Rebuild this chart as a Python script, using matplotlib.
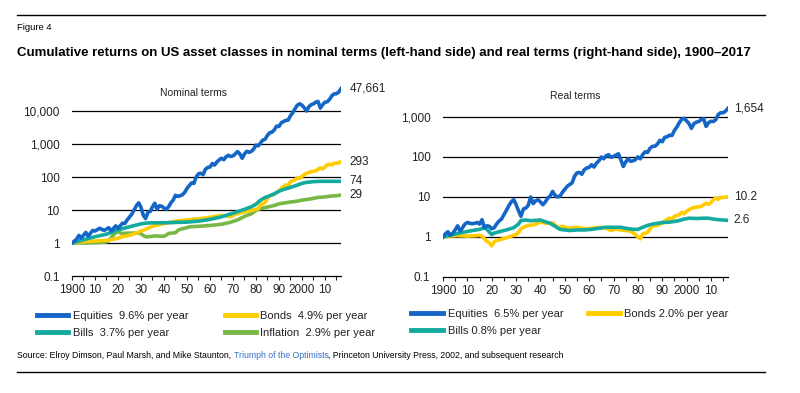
import matplotlib
matplotlib.use("Agg")
import matplotlib.pyplot as plt
from matplotlib.lines import Line2D
from matplotlib.ticker import FixedLocator, FuncFormatter

plt.rcParams['font.family'] = ['Liberation Sans', 'DejaVu Sans']

# ---- nominal terms (left) ----
nom_eq_years = [1900, 1902, 1903, 1904, 1906, 1907, 1909, 1910, 1912, 1914, 1916, 1917, 1919, 1920,
                1922, 1923, 1924, 1926, 1927, 1928, 1929, 1930, 1931, 1932, 1933, 1934, 1935, 1936,
                1937, 1938, 1939, 1940, 1941, 1942, 1943, 1944, 1945, 1946, 1947, 1948, 1949, 1950,
                1951, 1952, 1953, 1954, 1955, 1956, 1957, 1958, 1959, 1960, 1961, 1962, 1963, 1964,
                1965, 1966, 1967, 1968, 1969, 1970, 1971, 1972, 1973, 1974, 1975, 1976, 1977, 1978,
                1979, 1980, 1981, 1982, 1983, 1984, 1985, 1986, 1987, 1988, 1989, 1990, 1991, 1992,
                1993, 1994, 1995, 1996, 1997, 1998, 1999, 2000, 2001, 2002, 2003, 2004, 2005, 2006,
                2007, 2008, 2009, 2010, 2011, 2012, 2013, 2014, 2015, 2016, 2017]
nom_eq = [1.0, 1.3, 1.7, 1.4, 2.1, 1.6, 2.4, 2.3, 2.8, 2.4, 2.9, 2.3, 3.3, 2.8,
          4.0, 3.9, 5.0, 7.5, 10.0, 13.5, 16.5, 12.0, 7.0, 5.5, 8.5, 9.0, 12.5, 16.0,
          10.5, 13.5, 13.0, 11.5, 10.5, 12.5, 16.5, 20.0, 28.0, 26.0, 27.0, 29.0, 34.0, 45.0,
          55.0, 66.0, 64.0, 100.0, 125.0, 130.0, 118.0, 170.0, 195.0, 200.0, 255.0, 230.0, 285.0, 330.0,
          370.0, 335.0, 410.0, 455.0, 420.0, 435.0, 500.0, 590.0, 500.0, 370.0, 500.0, 600.0, 560.0, 600.0,
          700.0, 930.0, 880.0, 1080.0, 1320.0, 1400.0, 1840.0, 2200.0, 2300.0, 2700.0, 3500.0, 3400.0, 4400.0, 4800.0,
          5200.0, 5300.0, 7200.0, 8900.0, 11800.0, 15000.0, 16500.0, 15000.0, 12500.0, 10000.0, 13500.0, 15500.0, 16500.0, 18500.0,
          19500.0, 12300.0, 15500.0, 18500.0, 19000.0, 22500.0, 29000.0, 33000.0, 33500.0, 37500.0, 47661.0]

nom_bd_years = [1900, 1905, 1910, 1915, 1918, 1920, 1922, 1925, 1928, 1930, 1932, 1935, 1938, 1940,
                1943, 1945, 1948, 1950, 1955, 1958, 1960, 1963, 1965, 1967, 1969, 1970, 1972, 1975,
                1978, 1980, 1981, 1982, 1984, 1985, 1986, 1988, 1990, 1991, 1993, 1994, 1995, 1997,
                1998, 1999, 2000, 2002, 2004, 2006, 2008, 2009, 2010, 2011, 2012, 2013, 2014, 2015,
                2016, 2017]
nom_bd = [1.0, 1.1, 1.15, 1.2, 1.3, 1.4, 1.55, 1.7, 2.0, 2.3, 2.6, 3.2, 3.6, 3.9,
          4.2, 4.6, 4.8, 5.0, 5.4, 5.7, 6.0, 6.5, 6.8, 6.6, 6.2, 6.9, 7.8, 8.8,
          9.8, 10.5, 11.0, 14.5, 17.0, 22.0, 27.0, 30.0, 38.0, 45.0, 58.0, 54.0, 72.0, 82.0,
          95.0, 90.0, 105.0, 130.0, 145.0, 155.0, 190.0, 175.0, 200.0, 235.0, 245.0, 230.0, 260.0, 262.0,
          270.0, 293.0]

nom_bl_years = [1900, 1905, 1910, 1915, 1920, 1925, 1930, 1932, 1935, 1940, 1945, 1950, 1955, 1960,
                1965, 1970, 1975, 1978, 1980, 1982, 1984, 1986, 1988, 1990, 1992, 1994, 1996, 1998,
                2000, 2002, 2004, 2006, 2008, 2010, 2013, 2017]
nom_bl = [1.0, 1.25, 1.55, 1.85, 2.5, 3.1, 3.8, 4.0, 4.1, 4.1, 4.2, 4.3, 4.6, 5.2,
          6.2, 8.0, 10.5, 12.5, 15.0, 20.0, 24.0, 27.0, 31.0, 37.0, 42.0, 46.0, 51.0, 57.0,
          64.0, 69.0, 71.0, 73.0, 74.0, 74.0, 74.0, 74.0]

nom_in_years = [1900, 1905, 1910, 1913, 1915, 1916, 1917, 1918, 1919, 1920, 1921, 1922, 1925, 1929,
                1930, 1931, 1932, 1933, 1935, 1937, 1938, 1940, 1941, 1942, 1945, 1946, 1947, 1948,
                1950, 1951, 1955, 1960, 1965, 1968, 1970, 1972, 1974, 1975, 1978, 1979, 1980, 1981,
                1983, 1985, 1988, 1990, 1993, 1995, 1998, 2000, 2003, 2005, 2007, 2008, 2010, 2013,
                2015, 2017]
nom_in = [1.0, 1.0, 1.02, 1.05, 1.08, 1.2, 1.45, 1.75, 2.0, 2.3, 2.0, 1.95, 2.0, 2.0,
          1.9, 1.7, 1.55, 1.55, 1.6, 1.65, 1.6, 1.6, 1.75, 1.95, 2.05, 2.4, 2.6, 2.7,
          2.9, 3.1, 3.2, 3.4, 3.7, 4.1, 4.5, 5.0, 5.9, 6.4, 7.7, 8.6, 9.7, 10.6,
          11.4, 12.3, 13.7, 15.4, 16.6, 17.5, 18.5, 19.9, 21.3, 22.5, 24.2, 24.2, 25.0, 26.6,
          27.0, 28.6]

# ---- real terms (right) ----
real_eq_years = list(range(1900, 2018))
real_eq = [1.0, 1.2, 1.35, 1.1, 1.25, 1.5, 1.9, 1.4, 1.7, 2.1,
           2.3, 2.2, 2.15, 2.2, 2.3, 2.1, 2.7, 1.7, 1.9, 1.85,
           1.6, 1.7, 2.1, 2.5, 2.8, 3.6, 4.6, 6.0, 7.5, 8.6,
           6.5, 4.5, 3.3, 5.0, 5.3, 6.2, 10.0, 6.8, 8.0, 8.6,
           7.5, 6.4, 7.5, 9.4, 10.5, 13.8, 11.0, 10.0, 10.5, 13.0,
           15.5, 18.5, 20.5, 22.5, 33.0, 40.0, 41.0, 37.0, 48.0, 53.0,
           55.0, 64.0, 56.0, 70.0, 80.0, 100.0, 90.0, 108.0, 114.0, 98.0,
           103.0, 112.0, 120.0, 85.0, 58.0, 75.0, 90.0, 78.0, 80.0, 86.0,
           100.0, 90.0, 115.0, 135.0, 130.0, 165.0, 185.0, 185.0, 210.0, 260.0,
           240.0, 310.0, 320.0, 350.0, 345.0, 460.0, 560.0, 720.0, 880.0, 920.0,
           800.0, 680.0, 520.0, 680.0, 740.0, 770.0, 860.0, 900.0, 580.0, 720.0,
           780.0, 770.0, 860.0, 1150.0, 1280.0, 1270.0, 1400.0, 1654.0]

real_bd_years = [1900, 1903, 1906, 1910, 1913, 1915, 1916, 1917, 1918, 1919, 1920, 1921, 1922, 1924,
                 1926, 1928, 1930, 1931, 1932, 1933, 1935, 1937, 1939, 1940, 1942, 1944, 1945, 1946,
                 1947, 1948, 1949, 1950, 1951, 1953, 1955, 1957, 1959, 1961, 1963, 1965, 1967, 1969,
                 1971, 1973, 1975, 1977, 1979, 1980, 1981, 1982, 1984, 1985, 1986, 1988, 1990, 1991,
                 1993, 1994, 1995, 1997, 1998, 1999, 2000, 2002, 2004, 2006, 2008, 2009, 2010, 2011,
                 2012, 2013, 2014, 2015, 2016, 2017]
real_bd = [1.0, 1.05, 1.08, 1.05, 1.07, 1.1, 1.05, 0.9, 0.78, 0.72, 0.6, 0.75, 0.82, 0.88,
           0.95, 1.05, 1.15, 1.3, 1.6, 1.75, 1.95, 2.0, 2.2, 2.4, 2.2, 2.2, 2.25, 2.0,
           1.8, 1.7, 1.85, 1.8, 1.65, 1.7, 1.75, 1.65, 1.6, 1.65, 1.7, 1.75, 1.65, 1.45,
           1.6, 1.5, 1.45, 1.4, 1.15, 1.0, 0.9, 1.2, 1.3, 1.6, 1.9, 1.95, 2.2, 2.5,
           3.0, 2.7, 3.3, 3.6, 4.1, 3.8, 4.4, 5.2, 5.6, 5.8, 7.0, 6.5, 7.3, 8.5,
           9.5, 8.7, 9.8, 9.7, 9.9, 10.2]

real_bl_years = [1900, 1904, 1908, 1912, 1915, 1917, 1918, 1920, 1921, 1923, 1926, 1929, 1931, 1932,
                 1934, 1936, 1938, 1940, 1942, 1944, 1946, 1948, 1950, 1952, 1955, 1958, 1961, 1964,
                 1967, 1970, 1973, 1975, 1978, 1980, 1982, 1984, 1986, 1988, 1990, 1993, 1996, 1999,
                 2001, 2004, 2007, 2009, 2011, 2013, 2015, 2017]
real_bl = [1.0, 1.15, 1.3, 1.45, 1.55, 1.7, 1.55, 1.15, 1.25, 1.35, 1.5, 1.7, 2.1, 2.6,
           2.65, 2.55, 2.6, 2.65, 2.4, 2.2, 1.85, 1.55, 1.5, 1.45, 1.5, 1.5, 1.55, 1.65,
           1.75, 1.75, 1.75, 1.65, 1.55, 1.55, 1.75, 1.95, 2.1, 2.2, 2.3, 2.35, 2.5, 2.8,
           2.95, 2.9, 2.95, 2.95, 2.8, 2.7, 2.65, 2.6]

decade_ticks = list(range(1900, 2011, 10))
decade_labels = ['1900', '10', '20', '30', '40', '50', '60', '70', '80', '90', '2000', '10']
five_year_ticks = list(range(1900, 2016, 5))

BLUE = '#1466c6'
YELLOW = '#ffcc00'
TEAL = '#13aa9f'
GREEN = '#79b846'
TXT = '#222222'

fig = plt.figure(figsize=(8, 3.93), dpi=100)


def style_axis(ax, ymin, ymax, grid_vals):
    ax.set_yscale('log')
    ax.set_xlim(1900, 2017)
    ax.set_ylim(ymin, ymax)
    for s in ['left', 'right', 'top']:
        ax.spines[s].set_visible(False)
    ax.spines['bottom'].set_linewidth(0.9)
    ax.set_xticks(five_year_ticks)
    ax.set_xticklabels([decade_labels[decade_ticks.index(t)] if t in decade_ticks else ''
                        for t in five_year_ticks])
    ax.tick_params(axis='x', length=3, width=0.8, pad=3, labelsize=8.5, colors=TXT)
    ax.tick_params(axis='y', length=0, pad=9, labelsize=8.5, colors=TXT)
    ax.yaxis.set_major_locator(FixedLocator([ymin] + grid_vals))
    ax.yaxis.set_minor_locator(FixedLocator([]))
    ax.yaxis.set_major_formatter(FuncFormatter(lambda v, p: '0.1' if v < 1 else f'{v:,.0f}'))
    for g in grid_vals:
        ax.axhline(g, color='black', lw=0.9, zorder=1)


def style_legend(leg):
    for line in leg.get_lines():
        line.set_linewidth(3.5)
    for t in leg.get_texts():
        t.set_color(TXT)


# left panel
ax1 = fig.add_axes([0.09, 0.2977, 0.3363, 0.5038])
style_axis(ax1, 0.1, 1e5, [1, 10, 100, 1000, 10000])
l_in, = ax1.plot(nom_in_years, nom_in, color=GREEN, lw=2.6, zorder=3)
l_bl, = ax1.plot(nom_bl_years, nom_bl, color=TEAL, lw=2.6, zorder=4)
l_bd, = ax1.plot(nom_bd_years, nom_bd, color=YELLOW, lw=2.6, zorder=3)
l_eq, = ax1.plot(nom_eq_years, nom_eq, color=BLUE, lw=2.6, zorder=5)
for yv, txt in [(nom_eq[-1], '47,661'), (nom_bd[-1], '293'), (nom_bl[-1], '74'), (nom_in[-1], '29')]:
    ax1.annotate(txt, xy=(2017, yv), xytext=(6, 0), textcoords='offset points',
                 va='center', ha='left', fontsize=8.5, color=TXT, annotation_clip=False)

leg1 = ax1.legend([l_eq, l_bl, l_bd, l_in],
                  ['Equities  9.6% per year', 'Bills  3.7% per year',
                   'Bonds  4.9% per year', 'Inflation  2.9% per year'],
                  ncol=2, frameon=False, loc='upper left',
                  bbox_to_anchor=(37 / 800, 1 - 311 / 393), bbox_transform=fig.transFigure,
                  fontsize=8, handlelength=2.8, handletextpad=0.4, columnspacing=3.3,
                  labelspacing=0.62, borderpad=0, borderaxespad=0)
style_legend(leg1)

# right panel
ax2 = fig.add_axes([0.55375, 0.2952, 0.35625, 0.4555])
style_axis(ax2, 0.1, 2985, [1, 10, 100, 1000])
r_bl, = ax2.plot(real_bl_years, real_bl, color=TEAL, lw=2.6, zorder=4)
r_bd, = ax2.plot(real_bd_years, real_bd, color=YELLOW, lw=2.6, zorder=3)
r_eq, = ax2.plot(real_eq_years, real_eq, color=BLUE, lw=2.6, zorder=5)
for yv, txt in [(real_eq[-1], '1,654'), (real_bd[-1], '10.2'), (real_bl[-1], '2.6')]:
    ax2.annotate(txt, xy=(2017, yv), xytext=(4, 0), textcoords='offset points',
                 va='center', ha='left', fontsize=8.5, color=TXT, annotation_clip=False)

leg2 = ax2.legend([r_eq, r_bl, r_bd],
                  ['Equities  6.5% per year', 'Bills 0.8% per year', 'Bonds 2.0% per year'],
                  ncol=2, frameon=False, loc='upper left',
                  bbox_to_anchor=(411 / 800, 1 - 309 / 393), bbox_transform=fig.transFigure,
                  fontsize=8, handlelength=2.9, handletextpad=0.4, columnspacing=2.2,
                  labelspacing=0.62, borderpad=0, borderaxespad=0)
style_legend(leg2)

# panel headings
fig.text(193 / 800, 1 - 93 / 393, 'Nominal terms', ha='center', va='center', fontsize=7.5, color=TXT)
fig.text(575 / 800, 1 - 96 / 393, 'Real terms', ha='center', va='center', fontsize=7.5, color=TXT)

# header and footer
fig.add_artist(Line2D([17 / 800, 765 / 800], [1 - 15 / 393, 1 - 15 / 393], color='black', lw=1.0))
fig.add_artist(Line2D([17 / 800, 765 / 800], [1 - 372 / 393, 1 - 372 / 393], color='black', lw=1.0))
fig.text(17 / 800, 1 - 27 / 393, 'Figure 4', ha='left', va='center', fontsize=6.8, color='black')
fig.text(17 / 800, 1 - 53 / 393,
         'Cumulative returns on US asset classes in nominal terms (left-hand side) and real terms '
         '(right-hand side), 1900\u20132017',
         ha='left', va='center', fontsize=9.55, fontweight='bold', color='black')

src1 = fig.text(17 / 800, 1 - 356 / 393, 'Source: Elroy Dimson, Paul Marsh, and Mike Staunton, ',
                ha='left', va='center', fontsize=6.3, color='black')
src2 = ax1.annotate('Triumph of the Optimists', xy=(1, 0.5), xycoords=src1, ha='left', va='center',
                    fontsize=6.3, color='#3a6fc4', annotation_clip=False)
ax1.annotate(', Princeton University Press, 2002, and subsequent research', xy=(1, 0.5), xycoords=src2,
             ha='left', va='center', fontsize=6.3, color='black', annotation_clip=False)

fig.savefig('out.png', dpi=100)
